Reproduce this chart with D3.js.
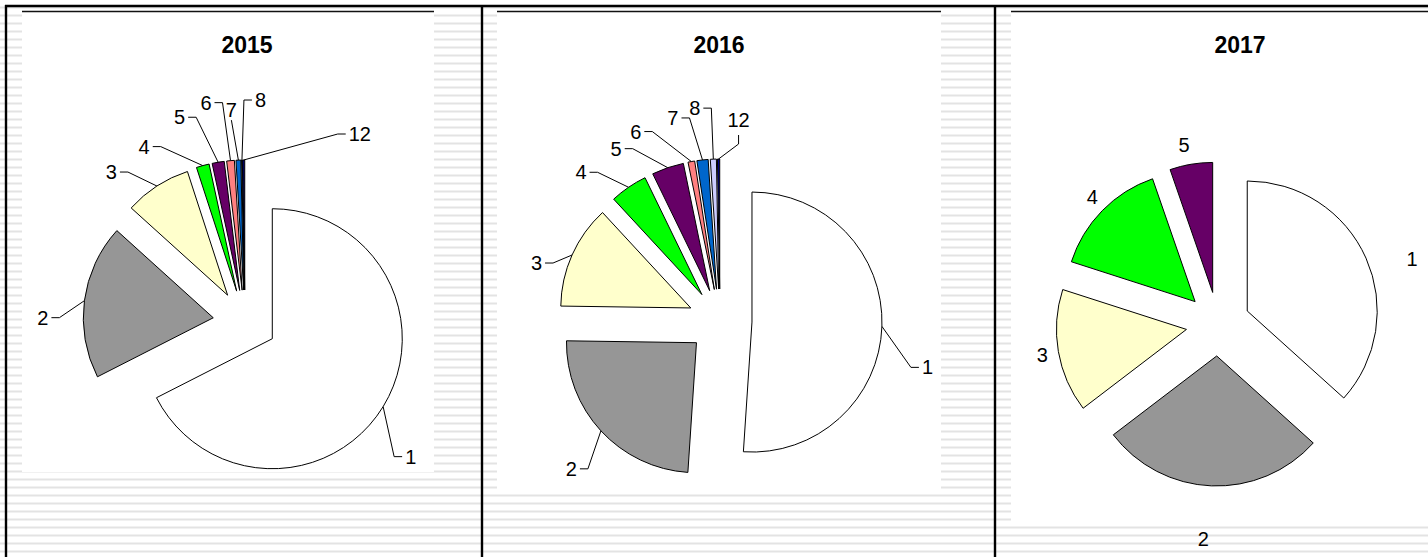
<!DOCTYPE html>
<html>
<head>
<meta charset="utf-8">
<script src="https://cdn.jsdelivr.net/npm/d3@7"></script>
<style>
body { margin: 0; background: #fff; }
svg { display: block; font-family: "Liberation Sans", Arial, sans-serif; }
</style>
</head>
<body>
<svg width="1428" height="557"></svg>
<script>
// data
const categories = ['1', '2', '3', '4', '5', '6', '7', '8', '9', '10', '11', '12'];
const sliceColors = ['#ffffff', '#969696', '#ffffcc', '#00ff00', '#660066', '#ff8080',
    '#0066cc', '#ccccff', '#ff00ff', '#ffff00', '#00ffff', '#000080'];
const years = ['2015', '2016', '2017'];
const values2015 = [67.5, 19.2, 8.3, 1.6, 1.5, 0.95, 0.6, 0.1, 0, 0, 0, 0.25];
const values2016 = [51.1, 24.2, 12.9, 4.67, 3.97, 0.83, 1.39, 0.75, 0, 0, 0, 0.28];
const values2017 = [36.6, 27.9, 15.3, 14.7, 5.3, 0, 0, 0, 0, 0, 0, 0];

// layout of each panel (label offsets are relative to the slice's outer mid point)
const panels = [
    {
        values: values2015, area: [22, 12, 412, 460], cx: 245, cy: 322, r: 130, explode: 32, titleX: 247,
        labels: {
            0: ['r', 22, 50], 1: ['l', -36, 17], 2: ['l', -40, -14], 3: ['l', -53, -19], 4: ['l', -33, -45],
            5: ['l', -19, -58], 6: ['t', -7, -50], 7: ['r', 13, -60], 11: ['r', 105, -26]
        }
    },
    {
        values: values2016, area: [497, 12, 444, 478], cx: 720, cy: 321, r: 130, explode: 32, titleX: 719,
        labels: {
            0: ['r', 40, 41], 1: ['l', -24, 38], 2: ['l', -30, 8], 3: ['l', -42, -15], 4: ['l', -46, -19],
            5: ['l', -50, -30], 6: ['l', -24, -42], 7: ['l', -13, -51], 11: ['b', 20, -39]
        }
    },
    {
        values: values2017, area: [1011, 12, 420, 510], cx: 1218, cy: 324, r: 130, explode: 32, titleX: 1240,
        labels: {
            0: ['n', 46, 1], 1: ['n', -8, 53], 2: ['n', -16, 4], 3: ['n', -10, -14], 4: ['n', -7, -19]
        }
    }
];

const svg = d3.select('svg');
const WIDTH = 1428;
const HEIGHT = 557;

// striped background
svg.append('g').selectAll('rect')
    .data(d3.range(-1, 68))
    .join('rect')
    .attr('x', 0)
    .attr('y', d => 14.5 + d * 8)
    .attr('width', WIDTH)
    .attr('height', 2)
    .attr('fill', '#e3e3e3');

// white chart areas
svg.append('g').selectAll('rect')
    .data(panels)
    .join('rect')
    .attr('x', d => d.area[0])
    .attr('y', d => d.area[1])
    .attr('width', d => d.area[2])
    .attr('height', d => d.area[3])
    .attr('fill', '#fff');

svg.append('g').selectAll('line')
    .data(panels)
    .join('line')
    .attr('x1', d => d.area[0])
    .attr('x2', d => d.area[0] + d.area[2])
    .attr('y1', 11.5)
    .attr('y2', 11.5)
    .attr('stroke', '#111')
    .attr('stroke-width', 1.6);

// frame
const frame = svg.append('g').attr('stroke', '#000').attr('stroke-width', 2.4);
frame.append('line').attr('x1', 5).attr('x2', WIDTH).attr('y1', 6).attr('y2', 6);
frame.append('line').attr('x1', 6).attr('x2', 6).attr('y1', 5).attr('y2', HEIGHT);
frame.selectAll('.divider')
    .data([482, 995])
    .join('line')
    .attr('class', 'divider')
    .attr('x1', d => d).attr('x2', d => d)
    .attr('y1', 5).attr('y2', HEIGHT);

const pie = d3.pie().sort(null).value(d => d.value);

panels.forEach((panel, p) => {
    const g = svg.append('g');
    const data = categories.map((c, i) => ({ category: c, index: i, value: panel.values[i] }));
    const arcs = pie(data).filter(d => d.value > 0);
    const arc = d3.arc().innerRadius(0).outerRadius(panel.r);
    const rim = d3.arc().innerRadius(panel.r).outerRadius(panel.r);
    const shift = d => {
        const m = (d.startAngle + d.endAngle) / 2;
        return [Math.sin(m) * panel.explode, -Math.cos(m) * panel.explode];
    };

    g.append('text')
        .attr('x', panel.titleX)
        .attr('y', 53)
        .attr('text-anchor', 'middle')
        .attr('font-size', 23)
        .attr('font-weight', 'bold')
        .text(years[p]);

    g.selectAll('.slice')
        .data(arcs)
        .join('path')
        .attr('class', 'slice')
        .attr('transform', d => {
            const [dx, dy] = shift(d);
            return `translate(${panel.cx + dx},${panel.cy + dy})`;
        })
        .attr('d', arc)
        .attr('fill', d => sliceColors[d.data.index])
        .attr('stroke', '#000')
        .attr('stroke-width', 1);

    const labelled = arcs.filter(d => panel.labels[d.data.index]).map(d => {
        const [dx, dy] = shift(d);
        const [rx, ry] = rim.centroid(d);
        const ax = panel.cx + dx + rx;
        const ay = panel.cy + dy + ry;
        const [side, ox, oy] = panel.labels[d.data.index];
        return { d, ax, ay, side, lx: ax + ox, ly: ay + oy };
    });

    const leader = l => {
        const path = d3.path();
        path.moveTo(l.ax, l.ay);
        if (l.side === 'l') {
            path.lineTo(l.lx + 11, l.ly);
            path.lineTo(l.lx + 3, l.ly);
        } else if (l.side === 'r') {
            path.lineTo(l.lx - 11, l.ly);
            path.lineTo(l.lx - 3, l.ly);
        } else if (l.side === 'b') {
            path.lineTo(l.lx, l.ly + 24);
            path.lineTo(l.lx, l.ly + 15);
        } else {
            path.lineTo(l.lx, l.ly + 10);
        }
        return path.toString();
    };

    g.selectAll('.leader')
        .data(labelled.filter(l => l.side !== 'n'))
        .join('path')
        .attr('class', 'leader')
        .attr('d', leader)
        .attr('fill', 'none')
        .attr('stroke', '#000')
        .attr('stroke-width', 1);

    g.selectAll('.label')
        .data(labelled)
        .join('text')
        .attr('class', 'label')
        .attr('x', l => l.lx)
        .attr('y', l => l.ly)
        .attr('dy', '0.35em')
        .attr('font-size', 20)
        .attr('text-anchor', l => l.side === 'l' ? 'end' : l.side === 'r' ? 'start' : 'middle')
        .text(l => l.d.data.category);
});
</script>
</body>
</html>
